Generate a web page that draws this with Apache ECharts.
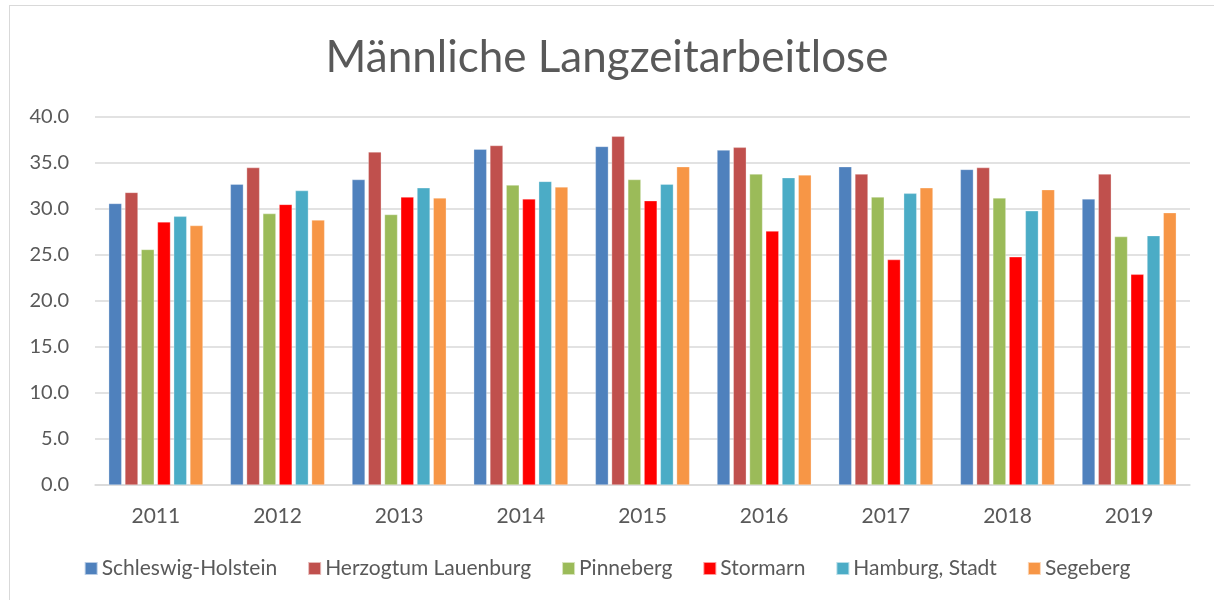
<!DOCTYPE html>
<html>
<head>
<meta charset="utf-8">
<script src="https://cdn.jsdelivr.net/npm/echarts@6/dist/echarts.min.js"></script>
<style>
html,body{margin:0;padding:0;background:#fff;}
#chart{position:absolute;left:0;top:0;width:1214px;height:600px;}
#frame{position:absolute;left:9px;top:5px;width:1215px;height:600px;border:1px solid #d9d9d9;box-sizing:border-box;pointer-events:none;}
</style>
</head>
<body>
<div id="chart"></div>
<div id="frame"></div>
<script>
const years = ['2011','2012','2013','2014','2015','2016','2017','2018','2019'];
const seriesNames = ['Schleswig-Holstein','Herzogtum Lauenburg','Pinneberg','Stormarn','Hamburg, Stadt','Segeberg'];
const schleswigHolstein = [30.6, 32.7, 33.2, 36.5, 36.8, 36.4, 34.6, 34.3, 31.1];
const herzogtumLauenburg = [31.8, 34.5, 36.2, 36.9, 37.9, 36.7, 33.8, 34.5, 33.8];
const pinneberg = [25.6, 29.5, 29.4, 32.6, 33.2, 33.8, 31.3, 31.2, 27.0];
const stormarn = [28.6, 30.5, 31.3, 31.1, 30.9, 27.6, 24.5, 24.8, 22.9];
const hamburgStadt = [29.2, 32.0, 32.3, 33.0, 32.7, 33.4, 31.7, 29.8, 27.1];
const segeberg = [28.2, 28.8, 31.2, 32.4, 34.6, 33.7, 32.3, 32.1, 29.6];
const colors = ['#4f81bd','#c0504d','#9bbb59','#ff0000','#4bacc6','#f79646'];
const allData = [schleswigHolstein, herzogtumLauenburg, pinneberg, stormarn, hamburgStadt, segeberg];

const chart = echarts.init(document.getElementById('chart'), null, {renderer:'canvas'});
const font = 'Lato, "Open Sans", sans-serif';
chart.setOption({
  animation:false,
  backgroundColor:'#fff',
  color: colors,
  title:{
    text:'Männliche Langzeitarbeitlose',
    left:'center', top:31,
    textStyle:{fontFamily:font, fontSize:44, fontWeight:'normal', color:'#595959'}
  },
  legend:{
    bottom:16, left:'center',
    itemWidth:13, itemHeight:13, itemGap:30,
    icon:'rect',
    textStyle:{fontFamily:font, fontSize:21, color:'#595959', padding:[0,0,0,-1]},
    data: seriesNames
  },
  grid:{left:95, right:24, top:117, bottom:115, containLabel:false},
  xAxis:{
    type:'category', data: years,
    axisLine:{lineStyle:{color:'#d9d9d9', width:1.5}},
    axisTick:{show:false},
    axisLabel:{fontFamily:font, fontSize:21, color:'#595959', margin:21}
  },
  yAxis:{
    type:'value', min:0, max:40, interval:5,
    axisLine:{show:false}, axisTick:{show:false},
    splitLine:{lineStyle:{color:'#d9d9d9', width:1.5}},
    axisLabel:{fontFamily:font, fontSize:20, color:'#595959', margin:26, formatter:v=>v.toFixed(1)}
  },
  series: seriesNames.map((n,i)=>({
    name:n, type:'bar', data: allData[i],
    barWidth:13, barGap:'25%',
    itemStyle:{color:colors[i], borderColor:'rgba(255,255,255,0.6)', borderWidth:0.5}
  }))
});
</script>
</body>
</html>
